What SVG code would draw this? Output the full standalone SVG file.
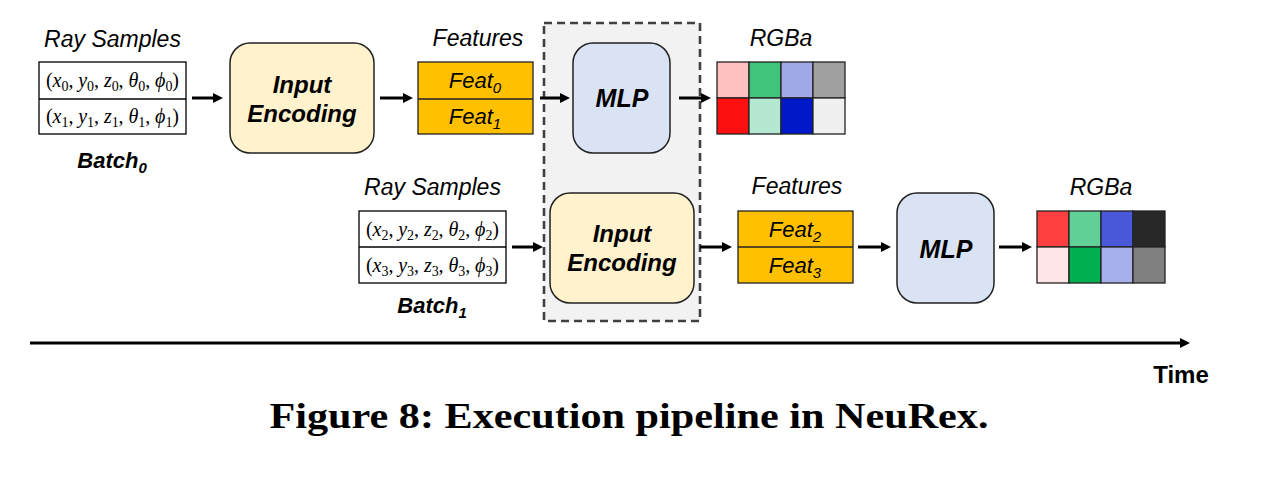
<svg xmlns="http://www.w3.org/2000/svg" width="1274" height="477" viewBox="0 0 1274 477">
<style>
.lbl{font-family:"Liberation Sans",Arial,sans-serif;font-style:italic;font-size:23px;fill:#000;text-anchor:middle}
.bt{font-family:"Liberation Sans",Arial,sans-serif;font-style:italic;font-weight:bold;fill:#000;text-anchor:middle}
.ft{font-family:"Liberation Sans",Arial,sans-serif;font-style:italic;font-size:22px;fill:#000;text-anchor:middle}
.math{font-family:"Liberation Serif","DejaVu Serif",serif;font-size:20px;fill:#000;text-anchor:middle}
.mi{font-style:italic}
.sub{font-size:14px}
.tbl{fill:#fff;stroke:#000;stroke-width:1.3}
.enc{fill:#fff2cc;stroke:#222;stroke-width:1.5}
.mlp{fill:#dae3f3;stroke:#222;stroke-width:1.5}
.feat{fill:#ffc000;stroke:#222;stroke-width:1.3}
.cell{stroke:#222;stroke-width:1.3}
.arr{stroke:#000;stroke-width:3;fill:none;marker-end:url(#ah)}
</style>
<defs>
<marker id="ah" viewBox="0 0 10 10" refX="1" refY="5" markerWidth="10" markerHeight="10" markerUnits="userSpaceOnUse" orient="auto">
<path d="M0,0 L10,5 L0,10 z" fill="#000"/>
</marker>
</defs>
<rect width="1274" height="477" fill="#fff"/>

<g id="stage-box">
<rect x="544" y="23" width="156" height="298" fill="#f2f2f2" stroke="#404040" stroke-width="2.6" stroke-dasharray="8,5"/>
</g>

<g id="batch0">
<text class="lbl" x="112.5" y="47">Ray Samples</text>
<rect class="tbl" x="39" y="62" width="147" height="72"/>
<line x1="39" y1="99" x2="186" y2="99" stroke="#000" stroke-width="1.3"/>
<text class="math" x="112.5" y="87" textLength="133" lengthAdjust="spacing">(<tspan class="mi">x</tspan><tspan class="sub" dy="4">0</tspan><tspan dy="-4">, </tspan><tspan class="mi">y</tspan><tspan class="sub" dy="4">0</tspan><tspan dy="-4">, </tspan><tspan class="mi">z</tspan><tspan class="sub" dy="4">0</tspan><tspan dy="-4">, </tspan><tspan class="mi">θ</tspan><tspan class="sub" dy="4">0</tspan><tspan dy="-4">, </tspan><tspan class="mi">ϕ</tspan><tspan class="sub" dy="4">0</tspan><tspan dy="-4">)</tspan></text>
<text class="math" x="112.5" y="123" textLength="133" lengthAdjust="spacing">(<tspan class="mi">x</tspan><tspan class="sub" dy="4">1</tspan><tspan dy="-4">, </tspan><tspan class="mi">y</tspan><tspan class="sub" dy="4">1</tspan><tspan dy="-4">, </tspan><tspan class="mi">z</tspan><tspan class="sub" dy="4">1</tspan><tspan dy="-4">, </tspan><tspan class="mi">θ</tspan><tspan class="sub" dy="4">1</tspan><tspan dy="-4">, </tspan><tspan class="mi">ϕ</tspan><tspan class="sub" dy="4">1</tspan><tspan dy="-4">)</tspan></text>
<text class="bt" x="112" y="168" font-size="22">Batch<tspan font-size="15" dy="5">0</tspan></text>
</g>

<g id="enc0">
<rect class="enc" x="230" y="43" width="144" height="110" rx="20"/>
<text class="bt" x="302" y="93" font-size="24">Input</text>
<text class="bt" x="302" y="122" font-size="24">Encoding</text>
</g>

<g id="feat0">
<text class="lbl" x="478" y="46">Features</text>
<rect class="feat" x="418" y="62" width="115" height="72"/>
<line x1="418" y1="99" x2="533" y2="99" stroke="#222" stroke-width="1.3"/>
<text class="ft" x="475" y="88">Feat<tspan font-size="15" dy="5">0</tspan></text>
<text class="ft" x="475" y="124">Feat<tspan font-size="15" dy="5">1</tspan></text>
</g>

<g id="mlp0">
<rect class="mlp" x="573" y="43" width="97" height="110" rx="20"/>
<text class="bt" x="622" y="107" font-size="25">MLP</text>
</g>

<g id="rgba0">
<text class="lbl" x="781" y="46">RGBa</text>
<rect class="cell" x="717" y="62" width="32" height="36" fill="#ffc0c0"/>
<rect class="cell" x="749" y="62" width="32" height="36" fill="#40c47c"/>
<rect class="cell" x="781" y="62" width="32" height="36" fill="#a0a8e8"/>
<rect class="cell" x="813" y="62" width="32" height="36" fill="#a0a0a0"/>
<rect class="cell" x="717" y="98" width="32" height="36" fill="#ff1010"/>
<rect class="cell" x="749" y="98" width="32" height="36" fill="#b4e8d0"/>
<rect class="cell" x="781" y="98" width="32" height="36" fill="#0018c8"/>
<rect class="cell" x="813" y="98" width="32" height="36" fill="#f0f0f0"/>
</g>

<g id="batch1">
<text class="lbl" x="432.5" y="195">Ray Samples</text>
<rect class="tbl" x="359" y="211" width="147" height="72"/>
<line x1="359" y1="247" x2="506" y2="247" stroke="#000" stroke-width="1.3"/>
<text class="math" x="432.5" y="236" textLength="133" lengthAdjust="spacing">(<tspan class="mi">x</tspan><tspan class="sub" dy="4">2</tspan><tspan dy="-4">, </tspan><tspan class="mi">y</tspan><tspan class="sub" dy="4">2</tspan><tspan dy="-4">, </tspan><tspan class="mi">z</tspan><tspan class="sub" dy="4">2</tspan><tspan dy="-4">, </tspan><tspan class="mi">θ</tspan><tspan class="sub" dy="4">2</tspan><tspan dy="-4">, </tspan><tspan class="mi">ϕ</tspan><tspan class="sub" dy="4">2</tspan><tspan dy="-4">)</tspan></text>
<text class="math" x="432.5" y="272" textLength="133" lengthAdjust="spacing">(<tspan class="mi">x</tspan><tspan class="sub" dy="4">3</tspan><tspan dy="-4">, </tspan><tspan class="mi">y</tspan><tspan class="sub" dy="4">3</tspan><tspan dy="-4">, </tspan><tspan class="mi">z</tspan><tspan class="sub" dy="4">3</tspan><tspan dy="-4">, </tspan><tspan class="mi">θ</tspan><tspan class="sub" dy="4">3</tspan><tspan dy="-4">, </tspan><tspan class="mi">ϕ</tspan><tspan class="sub" dy="4">3</tspan><tspan dy="-4">)</tspan></text>
<text class="bt" x="432" y="313" font-size="22">Batch<tspan font-size="15" dy="5">1</tspan></text>
</g>

<g id="enc1">
<rect class="enc" x="550" y="193" width="144" height="110" rx="20"/>
<text class="bt" x="622" y="242" font-size="24">Input</text>
<text class="bt" x="622" y="271" font-size="24">Encoding</text>
</g>

<g id="feat1">
<text class="lbl" x="797" y="194">Features</text>
<rect class="feat" x="738" y="211" width="115" height="72"/>
<line x1="738" y1="247" x2="853" y2="247" stroke="#222" stroke-width="1.3"/>
<text class="ft" x="795" y="237">Feat<tspan font-size="15" dy="5">2</tspan></text>
<text class="ft" x="795" y="273">Feat<tspan font-size="15" dy="5">3</tspan></text>
</g>

<g id="mlp1">
<rect class="mlp" x="897" y="193" width="97" height="110" rx="20"/>
<text class="bt" x="946" y="258" font-size="25">MLP</text>
</g>

<g id="rgba1">
<text class="lbl" x="1101" y="195">RGBa</text>
<rect class="cell" x="1037" y="211" width="32" height="36" fill="#ff4040"/>
<rect class="cell" x="1069" y="211" width="32" height="36" fill="#60d098"/>
<rect class="cell" x="1101" y="211" width="32" height="36" fill="#4858d8"/>
<rect class="cell" x="1133" y="211" width="32" height="36" fill="#282828"/>
<rect class="cell" x="1037" y="247" width="32" height="36" fill="#ffe4e8"/>
<rect class="cell" x="1069" y="247" width="32" height="36" fill="#00b050"/>
<rect class="cell" x="1101" y="247" width="32" height="36" fill="#a8b0ec"/>
<rect class="cell" x="1133" y="247" width="32" height="36" fill="#808080"/>
</g>

<g id="connectors">
<line class="arr" x1="192" y1="98" x2="214" y2="98"/>
<line class="arr" x1="380" y1="98" x2="404" y2="98"/>
<line class="arr" x1="540" y1="98" x2="561" y2="98"/>
<line class="arr" x1="679" y1="98" x2="702" y2="98"/>
<line class="arr" x1="512" y1="247" x2="534" y2="247"/>
<line class="arr" x1="700" y1="247" x2="723" y2="247"/>
<line class="arr" x1="858" y1="247" x2="882" y2="247"/>
<line class="arr" x1="999" y1="247" x2="1023" y2="247"/>
<line class="arr" x1="30" y1="343" x2="1181" y2="343"/>
</g>

<text x="1181" y="383" font-family="'Liberation Sans',Arial,sans-serif" font-weight="bold" font-size="24" text-anchor="middle" fill="#000">Time</text>
<text x="629" y="428" font-family="'Liberation Serif','Times New Roman',serif" font-weight="bold" font-size="36" text-anchor="middle" textLength="719" lengthAdjust="spacingAndGlyphs" fill="#000">Figure 8: Execution pipeline in NeuRex.</text>
</svg>
